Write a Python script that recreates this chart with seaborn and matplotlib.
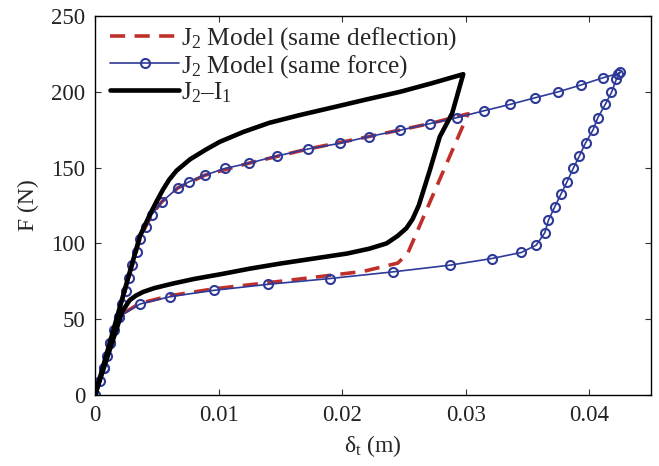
import matplotlib
matplotlib.use("Agg")
import matplotlib.pyplot as plt
import seaborn as sns
import pandas as pd

# J2 Model (same force) - blue with circle markers
force_x = [0, 0.0004, 0.00073, 0.001, 0.00121, 0.00154, 0.0019, 0.00218, 0.00251, 0.00277, 0.003, 0.00337, 0.00364,
           0.0041, 0.0046, 0.0054, 0.0067, 0.0076, 0.0089, 0.0105, 0.0125, 0.0147, 0.0172, 0.0198, 0.0222,
           0.0247, 0.0271, 0.0293, 0.0315, 0.0336, 0.0356, 0.0375, 0.0393, 0.0411, 0.0423, 0.0425,
           0.0422, 0.0418, 0.0413, 0.0407, 0.0403, 0.0397, 0.0392, 0.0387, 0.0382, 0.0377, 0.0372, 0.0367,
           0.0364, 0.0357, 0.0345, 0.0321, 0.0287, 0.0241, 0.019, 0.014, 0.0096, 0.0061, 0.00364,
           0.0019, 0.00121, 0.00073, 0]
force_y = [0, 9, 18, 26, 34, 43, 51.5, 60, 68.5, 77, 86, 94, 103,
           111, 119, 127.4, 136.6, 140.6, 145, 149.4, 153, 157.6, 162.2, 166, 170.5,
           174.7, 179, 183, 187.5, 191.7, 196, 200, 204.4, 209.2, 212, 213,
           208.4, 199.6, 191.7, 183, 174.7, 166.3, 157.6, 149.4, 140.6, 132.3, 124, 115.3,
           107, 98.8, 94, 90, 85.6, 81.2, 76.8, 73, 69, 64.9, 60,
           51.5, 34, 18, 0]

# J2 Model (same deflection) - red dashed
defl_x = [0, 0.00364, 0.0041, 0.0046, 0.0054, 0.0067, 0.0089, 0.0125, 0.0172, 0.0222, 0.0271, 0.0302,
          0.0253, 0.0245, 0.0217, 0.015, 0.0096, 0.0061, 0.00364, 0.0019, 0]
defl_y = [0, 103, 111, 119, 127.4, 136.6, 145, 153, 162.2, 170.5, 179, 185.5,
          93.3, 87, 81.5, 75, 70, 65.5, 60.5, 52, 0]

# J2-I1 - black
ji_x = [0, 0.00364, 0.0045, 0.005, 0.0055, 0.006, 0.0066, 0.0077, 0.009, 0.0101, 0.012, 0.0141, 0.0165,
        0.0194, 0.022, 0.0247, 0.0272, 0.0298,
        0.0289, 0.0279, 0.0271, 0.0262, 0.0257, 0.0252, 0.0245, 0.0236, 0.0222, 0.0204, 0.0177, 0.015,
        0.0125, 0.0104, 0.008, 0.0063, 0.0048, 0.0039, 0.0033, 0.0028, 0.0022, 0]
ji_y = [0, 105, 120, 128, 135.5, 142, 148, 155.5, 162, 167, 173.5, 179.5, 184.5,
        190, 195, 200, 205.5, 211.6,
        185.7, 170.3, 148.3, 125, 116, 110, 105, 100, 96.5, 93.3, 90, 86.7,
        83.3, 80, 76.5, 73.5, 70.5, 68, 65.5, 62.5, 55, 0]

x_ticks = [0, 0.01, 0.02, 0.03, 0.04]
x_tick_labels = ["0", "0.01", "0.02", "0.03", "0.04"]
y_ticks = [0, 50, 100, 150, 200, 250]

sns.set_style("ticks")
plt.rcParams["font.family"] = ["Liberation Serif", "DejaVu Serif"]
plt.rcParams["mathtext.fontset"] = "custom"
plt.rcParams["mathtext.rm"] = "Liberation Serif"
plt.rcParams["mathtext.it"] = "Liberation Serif:italic"
plt.rcParams["mathtext.default"] = "regular"

fig = plt.figure(figsize=(6.59, 4.66), dpi=100)
ax = fig.add_axes([0.1442, 0.1524, 0.8437, 0.8133])

df_defl = pd.DataFrame({"x": defl_x, "y": defl_y})
df_force = pd.DataFrame({"x": force_x, "y": force_y})
df_ji = pd.DataFrame({"x": ji_x, "y": ji_y})

sns.lineplot(data=df_defl, x="x", y="y", sort=False, estimator=None, ax=ax,
             color="#c0302b", lw=2.6, linestyle=(0, (4.2, 2.6)),
             label="J$_2$ Model (same deflection)")
sns.lineplot(data=df_force, x="x", y="y", sort=False, estimator=None, ax=ax,
             color="#2e3a98", lw=1.2, marker="o", markersize=6.5, markerfacecolor="none",
             markeredgecolor="#2e3a98", markeredgewidth=1.5,
             label="J$_2$ Model (same force)")
sns.lineplot(data=df_ji, x="x", y="y", sort=False, estimator=None, ax=ax,
             color="black", lw=3.3, label="J$_2$\u2013I$_1$")

ax.set_xlim(0, 0.045)
ax.set_ylim(0, 250)
ax.set_xticks(x_ticks)
ax.set_xticklabels(x_tick_labels)
ax.set_yticks(y_ticks)
ax.tick_params(direction="in", length=4, width=0.8, top=True, right=True,
               labelsize=16.5, pad=7, colors="#333333", labelcolor="#222222")
for s in ax.spines.values():
    s.set_linewidth(1.0)
    s.set_color("black")

ax.set_xlabel("\u03b4$_t$ (m)", fontsize=17, labelpad=5)
ax.set_ylabel("F (N)", fontsize=17, labelpad=9)

leg = ax.legend(loc="upper left", frameon=False, fontsize=18.3, handlelength=2.7,
                handletextpad=0.1, labelspacing=0.02, borderaxespad=0.2,
                bbox_to_anchor=(0.0, 1.015))

fig.savefig("out.png", dpi=100)
